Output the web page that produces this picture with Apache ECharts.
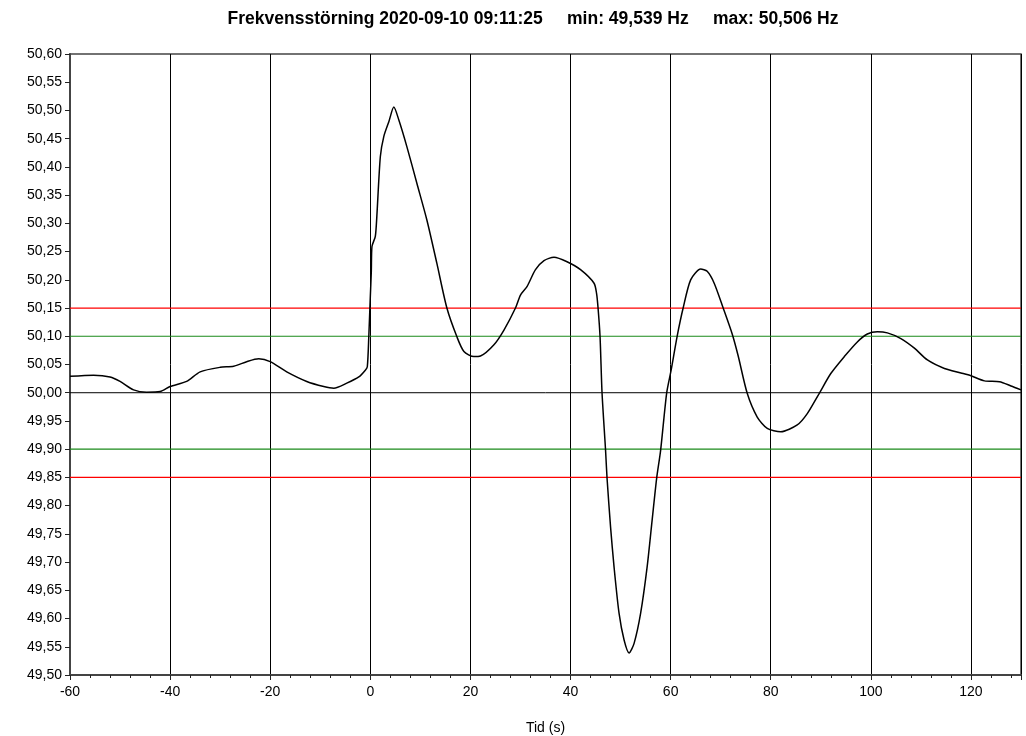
<!DOCTYPE html>
<html>
<head>
<meta charset="utf-8">
<script src="https://cdn.jsdelivr.net/npm/echarts@6/dist/echarts.min.js"></script>
<style>html,body{margin:0;padding:0;background:#fff}#c{width:1026px;height:736px}</style>
</head>
<body>
<div id="c"></div>
<script>
const titleText = 'Frekvensstörning 2020-09-10 09:11:25     min: 49,539 Hz     max: 50,506 Hz';
const xName = 'Tid (s)';
const times = [-60, -55.3, -52, -50, -47.3, -44.7, -42, -40, -36.7, -34, -30, -27.3, -24.7, -22.3, -20, -16.7, -12.7, -9.3, -7.3, -4.7, -2.3, -1, -0.6, -0.3, 0, 0.2, 0.33, 1, 1.3, 2, 2.7, 3.7, 4.7, 5.7, 7.3, 9.3, 11.3, 13.3, 15.3, 17.3, 18.7, 20.7, 22, 24.7, 26.7, 29, 30, 31.3, 33, 34.7, 36.7, 39.3, 42, 44.7, 45.2, 45.5, 45.9, 46.3, 47, 47.3, 48, 48.7, 49.7, 50.7, 51.7, 52.7, 54, 55.3, 56.3, 57.2, 58, 59.2, 60.1, 61.3, 62.5, 64, 66, 67.3, 68.7, 70.5, 72.3, 73.5, 75.3, 77.3, 79.3, 82, 85.3, 87.3, 89.7, 92, 94.7, 97.3, 99.3, 101.3, 103.3, 106, 108.7, 111.3, 114.7, 118, 120, 122.7, 125.7, 128, 130];
const freqs = [50.029, 50.031, 50.028, 50.020, 50.005, 50.001, 50.002, 50.011, 50.020, 50.037, 50.045, 50.047, 50.055, 50.060, 50.055, 50.037, 50.020, 50.011, 50.008, 50.017, 50.028, 50.040, 50.046, 50.100, 50.170, 50.215, 50.259, 50.277, 50.312, 50.418, 50.454, 50.480, 50.506, 50.483, 50.436, 50.371, 50.306, 50.229, 50.150, 50.099, 50.073, 50.064, 50.065, 50.085, 50.111, 50.150, 50.173, 50.188, 50.218, 50.234, 50.240, 50.232, 50.218, 50.194, 50.176, 50.150, 50.099, 49.999, 49.898, 49.848, 49.762, 49.691, 49.609, 49.562, 49.539, 49.556, 49.609, 49.691, 49.774, 49.848, 49.898, 49.999, 50.040, 50.100, 50.150, 50.200, 50.219, 50.215, 50.194, 50.150, 50.104, 50.065, 49.999, 49.957, 49.937, 49.931, 49.943, 49.963, 49.999, 50.034, 50.064, 50.090, 50.104, 50.108, 50.106, 50.096, 50.079, 50.058, 50.043, 50.035, 50.030, 50.021, 50.0195, 50.012, 50.005];
const redLimits = [50.15, 49.85];
const greenLimits = [50.10, 49.90];
const nominal = [50.00];
const xMin = -60, xMax = 130;

const data = times.map((t, i) => [t, freqs[i]]);
function hLine(v, color, width) {
  return {
    type: 'line', data: [[xMin, v], [xMax, v]], showSymbol: false, silent: true,
    lineStyle: {color: color, width: width}, z: 3
  };
}
const limitSeries = [];
nominal.forEach(v => limitSeries.push(hLine(v, '#000', 1)));
greenLimits.forEach(v => limitSeries.push(hLine(v, '#1a8a1a', 1.2)));
redLimits.forEach(v => limitSeries.push(hLine(v, '#ff0000', 1.2)));

const font = '"Liberation Sans", Arial, sans-serif';
const chart = echarts.init(document.getElementById('c'), null, {renderer: 'canvas'});
chart.setOption({
  animation: false,
  backgroundColor: '#fff',
  title: {
    text: titleText, left: 528, top: 5, textAlign: 'center',
    textStyle: {fontFamily: font, fontSize: 17.5, fontWeight: 'bold', color: '#000'}
  },
  grid: {left: 70, right: 5, top: 54, bottom: 61, outerBoundsMode: 'none', containLabel: false,
    show: true, borderColor: '#444', borderWidth: 1.5, backgroundColor: 'transparent'},
  xAxis: {
    type: 'value', min: xMin, max: xMax, interval: 20,
    name: xName, nameLocation: 'middle', nameGap: 46,
    nameTextStyle: {fontFamily: font, fontSize: 14, color: '#000'},
    axisLine: {show: true, onZero: false, lineStyle: {color: '#444', width: 2}},
    axisTick: {show: true, length: 5, lineStyle: {color: '#222'}},
    minorTick: {show: true, splitNumber: 5, length: 3, lineStyle: {color: '#222'}},
    axisLabel: {fontFamily: font, fontSize: 14, color: '#000', margin: 10, showMaxLabel: false},
    splitLine: {show: true, lineStyle: {color: '#000', width: 1}}
  },
  yAxis: {
    type: 'value', min: 49.50, max: 50.60, interval: 0.05,
    axisLine: {show: true, onZero: false, lineStyle: {color: '#444', width: 2}},
    axisTick: {show: true, length: 5, lineStyle: {color: '#222'}},
    axisLabel: {fontFamily: font, fontSize: 14, color: '#000', margin: 8,
      formatter: v => v.toFixed(2).replace('.', ',')},
    splitLine: {show: false}
  },
  series: limitSeries.concat([{
    type: 'line', data: data, showSymbol: false, smooth: 0.25,
    lineStyle: {color: '#000', width: 1.5},
    z: 5
  }])
});
</script>
</body>
</html>
